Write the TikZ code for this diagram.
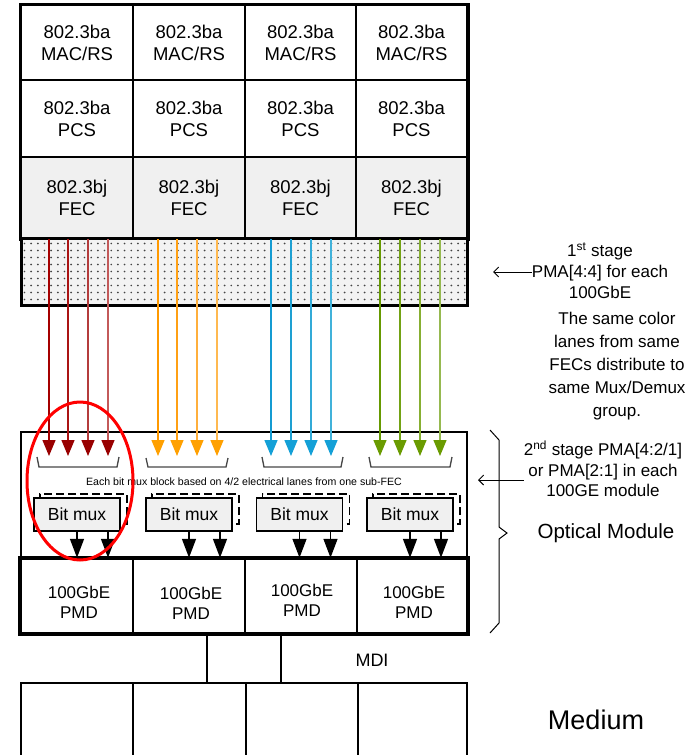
\documentclass[tikz,border=0pt]{standalone}
\usepackage{fontspec}
\setmainfont{Liberation Sans}
\usetikzlibrary{arrows.meta}
\definecolor{fecfill}{RGB}{240,240,240}
\definecolor{dotfill}{RGB}{243,243,243}
\definecolor{dotcol}{RGB}{70,70,70}
\definecolor{bracecol}{RGB}{70,70,70}
\definecolor{rh}{RGB}{153,0,0}
\definecolor{ra}{RGB}{165,0,0}
\definecolor{rb}{RGB}{170,20,20}
\definecolor{rc}{RGB}{180,60,60}
\definecolor{rd}{RGB}{195,90,90}
\definecolor{oh}{RGB}{255,160,0}
\definecolor{oa}{RGB}{255,153,0}
\definecolor{ob}{RGB}{255,160,20}
\definecolor{oc}{RGB}{255,175,60}
\definecolor{od}{RGB}{255,185,80}
\definecolor{bh}{RGB}{20,160,215}
\definecolor{ba}{RGB}{20,155,210}
\definecolor{bb}{RGB}{30,160,210}
\definecolor{bc}{RGB}{50,170,215}
\definecolor{bd}{RGB}{65,178,218}
\definecolor{gh}{RGB}{106,155,0}
\definecolor{ga}{RGB}{102,153,0}
\definecolor{gb}{RGB}{115,162,20}
\definecolor{gc}{RGB}{135,175,50}
\definecolor{gd}{RGB}{150,185,80}
\begin{document}
\begin{tikzpicture}[x=1pt,y=-1pt,
  cell/.style={draw, line width=2pt, inner sep=0pt, align=center,
    font=\fontsize{18.5}{22}\selectfont},
  pmdcell/.style={draw, line width=2.5pt, inner sep=0pt, align=center,
    font=\fontsize{17}{20}\selectfont},
  medcell/.style={draw, line width=1.2pt, inner sep=0pt},
  lane/.style={line width=1.3pt},
  backbox/.style={draw, line width=1.6pt, dash pattern=on 8pt off 4pt, inner sep=0pt,
    minimum width=87pt, minimum height=30pt},
  muxbox/.style={draw, line width=1.5pt, fill=fecfill, inner sep=0pt,
    minimum width=86pt, minimum height=33pt, font=\fontsize{17.5}{20}\selectfont},
  muxarrow/.style={line width=1.5pt, -{Triangle[width=14pt,length=19pt]}},
  smallbrace/.style={draw=bracecol, line width=1.3pt},
  note/.style={align=center, inner sep=0pt, font=\fontsize{17}{21}\selectfont},
  noteArrow/.style={line width=0.9pt, -{Straight Barb[length=5pt,width=10pt]}},
]
\useasboundingbox (0,0) rectangle (694,755);

% ---------- top stack ----------
\foreach \i/\xa/\xb in {1/21/133, 2/133/245, 3/245/356, 4/356/467} {
  \node[cell, minimum width={(\xb-\xa)*1pt}, minimum height=75pt]
    (mac\i) at ({(\xa+\xb)/2},42.5) {802.3ba\\MAC/RS};
  \node[cell, minimum width={(\xb-\xa)*1pt}, minimum height=77pt]
    (pcs\i) at ({(\xa+\xb)/2},118.5) {802.3ba\\PCS};
  \node[cell, fill=fecfill, minimum width={(\xb-\xa)*1pt}, minimum height=81pt]
    (fec\i) at ({(\xa+\xb)/2},197.5) {802.3bj\\FEC};
}
\draw[line width=3pt] (mac1.north west) rectangle (fec4.south east);

% ---------- 1st stage PMA (dotted) ----------
\node[draw, line width=3pt, fill=dotfill, minimum width=446pt, minimum height=67pt,
  inner sep=0pt] (pma) at (244,271.5) {};
\foreach \c in {0,...,66}
  \foreach \r in {0,...,8}
    \fill[dotcol] ({24.5+\c*6.67},{243.5+\r*7}) circle (0.95pt);

% ---------- optical module ----------
\node[draw, line width=2pt, minimum width=446pt, minimum height=127pt, inner sep=0pt]
  (om) at (244,495.5) {};

% ---------- lanes ----------
\foreach \n/\x/\c/\h/\f in {
  11/49/ra/rh/1, 12/68/rb/rh/1, 13/88/rc/rh/1, 14/108/rd/rh/1,
  21/158/oa/oh/2, 22/177/ob/oh/2, 23/197/oc/oh/2, 24/217/od/oh/2,
  31/271/ba/bh/3, 32/291/bb/bh/3, 33/311/bc/bh/3, 34/331/bd/bh/3,
  41/380/ga/gh/4, 42/400/gb/gh/4, 43/420/gc/gh/4, 44/440/gd/gh/4} {
  \coordinate (t\n) at (\x,456);
  \draw[lane, \c, -{Triangle[width=13pt,length=16pt,color=\h,fill=\h]}]
    (t\n |- fec\f.south) -- (t\n);
}

% ---------- small braces ----------
\draw[smallbrace] (37,457) -- (39,467) -- (117,467) -- (119,457);
\draw[smallbrace] (146,458) -- (148,467) -- (226,467) -- (228,458);
\draw[smallbrace] (262,457) -- (264,467) -- (341,467) -- (343,457);
\draw[smallbrace] (369,457) -- (371,467) -- (450,467) -- (452,457);

\node[inner sep=0pt, font=\fontsize{10.6}{12}\selectfont] (eachtxt) at (244,482)
  {Each bit mux block based on 4/2 electrical lanes from one sub-FEC};

% ---------- PMD row ----------
\foreach \i/\xa/\xb in {1/21/133, 2/133/245, 3/245/357, 4/357/467} {
  \node[pmdcell, minimum width={(\xb-\xa)*1pt}, minimum height=74pt]
    (pmd\i) at ({(\xa+\xb)/2},596) {};
}
\node[pmdcell, draw=none] (pmdt1) at (79,602) {100GbE\\PMD};
\node[pmdcell, draw=none] (pmdt2) at (191,603) {100GbE\\PMD};
\node[pmdcell, draw=none] (pmdt3) at (302,600) {100GbE\\PMD};
\node[pmdcell, draw=none] (pmdt4) at (414,602) {100GbE\\PMD};
\draw[line width=3pt] (pmd1.north west) rectangle (pmd4.south east);

% ---------- bit mux blocks ----------
\foreach \i/\cx in {1/77, 2/189, 3/299.5, 4/410} {
  \node[backbox] (bb\i) at ({\cx+6.5},509) {};
  \node[muxbox] (bm\i) at (\cx,514.5) {Bit mux};
  \draw[muxarrow] (bm\i.south) -- (bm\i.south |- pmd\i.north);
  \draw[muxarrow] ([xshift=31pt]bm\i.south) -- ([xshift=31pt]bm\i.south |- pmd\i.north);
}

% ---------- red ellipse ----------
\draw[red, line width=3pt] (80,481) ellipse [x radius=53pt, y radius=79pt];

% ---------- medium ----------
\foreach \i/\xa/\xb in {1/21/133, 2/133/246, 3/246/358, 4/358/467} {
  \node[medcell, minimum width={(\xb-\xa)*1pt}, minimum height=90pt]
    (med\i) at ({(\xa+\xb)/2},728) {};
}
\coordinate (mdiA) at (207,660);
\coordinate (mdiB) at (281,660);
\draw[line width=1.2pt] (mdiA |- pmd2.south) -- (mdiA |- med2.north);
\draw[line width=1.2pt] (mdiB |- pmd3.south) -- (mdiB |- med3.north);
\node[inner sep=0pt, font=\fontsize{18}{20}\selectfont] (mditxt) at (372,660) {MDI};
\node[inner sep=0pt, font=\fontsize{27}{30}\selectfont] (medtxt) at (596,720) {Medium};

% ---------- right annotations ----------
\node[note] (stage1) at (600,271) {1\textsuperscript{st} stage\\PMA[4:4] for each\\100GbE};
\coordinate (a1) at (493,272);
\draw[noteArrow] (a1 -| stage1.west) -- (a1);

\node[note, font=\fontsize{17}{23}\selectfont] (same) at (617,366)
  {The same color\\lanes from same\\FECs distribute to\\same Mux/Demux\\group.};

\node[note, font=\fontsize{17}{20.5}\selectfont] (stage2) at (603,469)
  {2\textsuperscript{nd} stage PMA[4:2/1]\\or PMA[2:1] in each\\100GE module};
\coordinate (a2) at (478,480);
\draw[noteArrow] (a2 -| stage2.west) -- (a2);

\draw[line width=1pt] (490,430) -- (499,440) -- (499,527) -- (507,533)
  -- (499,539) -- (499,623) -- (490,633);
\node[inner sep=0pt, font=\fontsize{20.5}{24}\selectfont] (optmod) at (606,533) {Optical Module};

\end{tikzpicture}
\end{document}
